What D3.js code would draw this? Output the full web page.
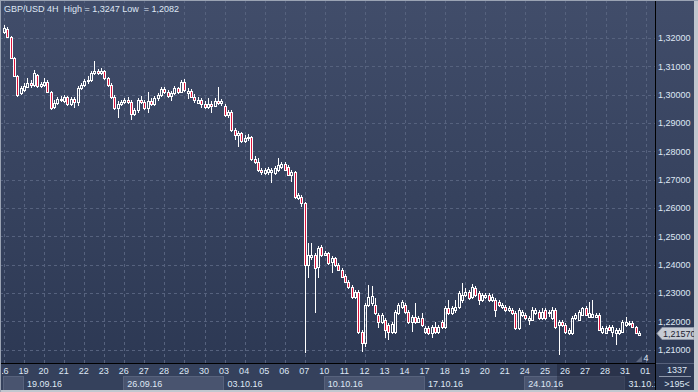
<!DOCTYPE html>
<html>
<head>
<meta charset="utf-8">
<script src="https://cdn.jsdelivr.net/npm/d3@7"></script>
<style>
  html, body { margin: 0; padding: 0; background: #2f3b56; }
  svg { display: block; }
  text { font-family: "Liberation Sans", Arial, sans-serif; font-size: 9px; }
</style>
</head>
<body>
<div id="chart"></div>
<script>
// GBP/USD 4H candles, 6 bars per trading day, one line per day
const dayLabels = ["16","19","20","21","22","23","26","27","28","29","30","03","04","05","06","07",
  "10","11","12","13","14","17","18","19","20","21","24","25","26","27","28","31","01"];
const weekLabels = ["19.09.16","26.09.16","03.10.16","10.10.16","17.10.16","24.10.16","31.10.16"];
const weekStartDay = [1, 6, 11, 16, 21, 26, 31]; // index into dayLabels
const priceTicks = [1.21,1.22,1.23,1.24,1.25,1.26,1.27,1.28,1.29,1.30,1.31,1.32];

const opens = [
  1.3221,1.3232,1.3204,1.3129,1.3066,1.3006,
  1.3016,1.3027,1.3041,1.3034,1.3069,1.3031,
  1.3034,1.3045,1.3009,1.2956,1.2971,1.2985,
  1.2978,1.2992,1.2967,1.2985,1.2974,1.3024,
  1.3034,1.3048,1.3052,1.3076,1.3084,1.3076,
  1.3084,1.3059,1.3034,1.2992,1.2953,1.2967,
  1.2974,1.2981,1.2974,1.2932,1.2946,1.2981,
  1.2974,1.2953,1.2978,1.2967,1.2988,1.2999,
  1.3020,1.3009,1.2995,1.3006,1.3024,1.3009,
  1.3045,1.3006,1.3013,1.2992,1.2971,1.2981,
  1.2967,1.2956,1.2967,1.2960,1.2978,1.2971,
  1.2960,1.2928,1.2939,1.2875,1.2858,1.2865,
  1.2836,1.2847,1.2851,1.2773,1.2762,1.2734,
  1.2723,1.2727,1.2727,1.2723,1.2734,1.2745,
  1.2755,1.2745,1.2716,1.2727,1.2635,1.2639,
  1.2618,1.2399,1.2427,1.2434,1.2392,1.2462,
  1.2434,1.2441,1.2409,1.2423,1.2399,1.2381,
  1.2360,1.2339,1.2321,1.2286,1.2303,1.2162,
  1.2123,1.2257,1.2265,1.2257,1.2222,1.2197,
  1.2205,1.2187,1.2162,1.2162,1.2229,1.2250,
  1.2257,1.2233,1.2197,1.2215,1.2197,1.2212,
  1.2162,1.2176,1.2158,1.2180,1.2162,1.2197,
  1.2180,1.2247,1.2229,1.2240,1.2250,1.2275,
  1.2293,1.2303,1.2286,1.2318,1.2300,1.2275,
  1.2286,1.2293,1.2275,1.2275,1.2268,1.2250,
  1.2250,1.2240,1.2240,1.2229,1.2176,1.2222,
  1.2222,1.2205,1.2205,1.2229,1.2233,1.2212,
  1.2240,1.2229,1.2212,1.2240,1.2187,1.2197,
  1.2187,1.2158,1.2158,1.2212,1.2205,1.2222,
  1.2247,1.2215,1.2215,1.2215,1.2222,1.2162,
  1.2158,1.2180,1.2162,1.2158,1.2158,1.2162,
  1.2187,1.2190,1.2194,1.2180,1.2151
];
const highs = [
  1.3246,1.3239,1.3207,1.3133,1.3069,1.3031,
  1.3041,1.3059,1.3052,1.3087,1.3073,1.3045,
  1.3059,1.3052,1.3013,1.2981,1.2992,1.2995,
  1.2999,1.2995,1.2992,1.2992,1.3031,1.3041,
  1.3055,1.3066,1.3084,1.3119,1.3091,1.3094,
  1.3087,1.3062,1.3041,1.2999,1.2978,1.2981,
  1.2988,1.2992,1.2981,1.2953,1.2988,1.2995,
  1.2981,1.3009,1.2988,1.2995,1.3006,1.3027,
  1.3027,1.3016,1.3013,1.3031,1.3027,1.3052,
  1.3055,1.3024,1.3020,1.3002,1.2992,1.2988,
  1.2978,1.2988,1.2978,1.2988,1.3027,1.2985,
  1.2967,1.2946,1.2946,1.2882,1.2872,1.2868,
  1.2858,1.2861,1.2854,1.2783,1.2776,1.2741,
  1.2741,1.2745,1.2741,1.2748,1.2776,1.2762,
  1.2762,1.2752,1.2734,1.2731,1.2653,1.2646,
  1.2621,1.2476,1.2476,1.2441,1.2466,1.2469,
  1.2448,1.2445,1.2430,1.2427,1.2406,1.2388,
  1.2367,1.2346,1.2328,1.2310,1.2310,1.2169,
  1.2265,1.2328,1.2325,1.2282,1.2229,1.2229,
  1.2212,1.2194,1.2197,1.2240,1.2265,1.2275,
  1.2265,1.2240,1.2222,1.2265,1.2219,1.2229,
  1.2183,1.2183,1.2187,1.2197,1.2187,1.2205,
  1.2254,1.2275,1.2254,1.2275,1.2307,1.2335,
  1.2318,1.2310,1.2332,1.2325,1.2307,1.2300,
  1.2300,1.2300,1.2296,1.2282,1.2275,1.2265,
  1.2257,1.2254,1.2247,1.2236,1.2247,1.2240,
  1.2229,1.2219,1.2250,1.2247,1.2240,1.2247,
  1.2247,1.2240,1.2250,1.2247,1.2205,1.2205,
  1.2194,1.2176,1.2219,1.2229,1.2240,1.2250,
  1.2254,1.2268,1.2275,1.2229,1.2229,1.2183,
  1.2183,1.2187,1.2187,1.2176,1.2176,1.2205,
  1.2215,1.2201,1.2201,1.2183,1.2166
];
const lows = [
  1.3214,1.3200,1.3126,1.3062,1.2992,1.2999,
  1.3009,1.3024,1.3024,1.3027,1.3024,1.3024,
  1.3027,1.3006,1.2946,1.2949,1.2963,1.2974,
  1.2971,1.2960,1.2960,1.2953,1.2960,1.3016,
  1.3027,1.3038,1.3045,1.3069,1.3069,1.3069,
  1.3052,1.3027,1.2985,1.2946,1.2918,1.2960,
  1.2967,1.2967,1.2911,1.2925,1.2935,1.2967,
  1.2946,1.2935,1.2960,1.2960,1.2978,1.2992,
  1.3002,1.2988,1.2978,1.2999,1.3002,1.3006,
  1.3009,1.2985,1.2988,1.2971,1.2967,1.2953,
  1.2949,1.2949,1.2935,1.2956,1.2963,1.2960,
  1.2921,1.2918,1.2868,1.2840,1.2815,1.2829,
  1.2829,1.2836,1.2766,1.2755,1.2727,1.2716,
  1.2716,1.2716,1.2688,1.2716,1.2727,1.2738,
  1.2731,1.2713,1.2692,1.2632,1.2628,1.2603,
  1.2088,1.2353,1.2416,1.2229,1.2353,1.2427,
  1.2430,1.2399,1.2370,1.2392,1.2378,1.2353,
  1.2335,1.2314,1.2279,1.2279,1.2155,1.2092,
  1.2109,1.2250,1.2254,1.2222,1.2176,1.2190,
  1.2141,1.2134,1.2155,1.2155,1.2222,1.2243,
  1.2226,1.2190,1.2162,1.2190,1.2194,1.2180,
  1.2155,1.2151,1.2141,1.2155,1.2155,1.2173,
  1.2173,1.2222,1.2222,1.2229,1.2243,1.2265,
  1.2286,1.2275,1.2279,1.2286,1.2257,1.2268,
  1.2279,1.2268,1.2268,1.2215,1.2250,1.2243,
  1.2233,1.2233,1.2222,1.2169,1.2169,1.2215,
  1.2205,1.2187,1.2201,1.2222,1.2205,1.2205,
  1.2205,1.2215,1.2205,1.2173,1.2082,1.2180,
  1.2155,1.2151,1.2151,1.2205,1.2201,1.2219,
  1.2219,1.2212,1.2212,1.2212,1.2166,1.2155,
  1.2155,1.2166,1.2145,1.2116,1.2151,1.2158,
  1.2180,1.2183,1.2176,1.2155,1.2148
];
const closes = [
  1.3235,1.3204,1.3129,1.3066,1.2999,1.3024,
  1.3031,1.3041,1.3034,1.3076,1.3031,1.3038,
  1.3045,1.3009,1.2953,1.2971,1.2985,1.2981,
  1.2992,1.2967,1.2985,1.2974,1.3024,1.3034,
  1.3048,1.3052,1.3076,1.3084,1.3076,1.3084,
  1.3059,1.3034,1.2992,1.2953,1.2967,1.2974,
  1.2981,1.2974,1.2932,1.2946,1.2981,1.2974,
  1.2953,1.2978,1.2967,1.2988,1.2999,1.3020,
  1.3009,1.2995,1.3006,1.3024,1.3009,1.3045,
  1.3016,1.3013,1.2992,1.2981,1.2981,1.2967,
  1.2956,1.2967,1.2960,1.2978,1.2971,1.2978,
  1.2928,1.2939,1.2875,1.2858,1.2865,1.2836,
  1.2847,1.2851,1.2773,1.2762,1.2734,1.2727,
  1.2734,1.2738,1.2734,1.2741,1.2752,1.2755,
  1.2734,1.2716,1.2727,1.2639,1.2646,1.2618,
  1.2399,1.2434,1.2434,1.2388,1.2459,1.2434,
  1.2441,1.2406,1.2423,1.2399,1.2381,1.2356,
  1.2339,1.2321,1.2286,1.2303,1.2162,1.2123,
  1.2257,1.2286,1.2289,1.2229,1.2197,1.2222,
  1.2169,1.2162,1.2190,1.2233,1.2257,1.2268,
  1.2233,1.2197,1.2215,1.2197,1.2212,1.2187,
  1.2176,1.2158,1.2180,1.2162,1.2180,1.2180,
  1.2247,1.2229,1.2247,1.2250,1.2300,1.2293,
  1.2303,1.2282,1.2321,1.2293,1.2275,1.2293,
  1.2293,1.2275,1.2286,1.2240,1.2257,1.2257,
  1.2240,1.2247,1.2229,1.2176,1.2240,1.2233,
  1.2212,1.2212,1.2240,1.2240,1.2212,1.2233,
  1.2212,1.2233,1.2240,1.2180,1.2197,1.2187,
  1.2162,1.2169,1.2212,1.2222,1.2233,1.2247,
  1.2222,1.2229,1.2226,1.2222,1.2169,1.2176,
  1.2176,1.2169,1.2180,1.2169,1.2169,1.2197,
  1.2197,1.2194,1.2180,1.2158,1.2157
];
const lastPrice = 1.21570;
const title = "GBP/USD 4H  High = 1,3247 Low  = 1,2082";
const barsPerDay = 6;
const shadeFromBar = 166;

const W = 698, H = 392;
const plotRight = 655, axisTop = 363;
const textColor = "#dfe7f4";
const bear = "#dc143c";

const svg = d3.select("#chart").append("svg")
  .attr("width", W).attr("height", H);

const defs = svg.append("defs");
const bg = defs.append("linearGradient").attr("id", "bg")
  .attr("x1", 0).attr("y1", 0).attr("x2", 0).attr("y2", 1);
bg.append("stop").attr("offset", "0%").attr("stop-color", "#414d6a");
bg.append("stop").attr("offset", "100%").attr("stop-color", "#2b3752");
defs.append("clipPath").attr("id", "plotClip")
  .append("rect").attr("x", 0).attr("y", 0).attr("width", plotRight).attr("height", H);
defs.append("clipPath").attr("id", "axisClip")
  .append("rect").attr("x", 2).attr("y", 0).attr("width", plotRight - 2).attr("height", H);

svg.append("rect").attr("width", W).attr("height", H).attr("fill", "url(#bg)");

const x = d3.scaleLinear().domain([0, 33 * barsPerDay]).range([4, 4 + 3.342 * 33 * barsPerDay]);
const y = d3.scaleLinear().domain([1.21, 1.32]).range([349.6, 38]);

// grid
const grid = svg.append("g").attr("stroke", "#56627e").attr("stroke-dasharray", "3,3");
grid.selectAll(".h").data(priceTicks).join("line")
  .attr("x1", 0).attr("x2", plotRight)
  .attr("y1", d => Math.round(y(d)) + 0.5).attr("y2", d => Math.round(y(d)) + 0.5);
grid.selectAll(".v").data(dayLabels).join("line")
  .attr("x1", (d, k) => Math.round(x(k * barsPerDay)) + 0.5)
  .attr("x2", (d, k) => Math.round(x(k * barsPerDay)) + 0.5)
  .attr("y1", 0).attr("y2", axisTop);

// candles
const bars = d3.range(closes.length);
const cg = svg.append("g").attr("clip-path", "url(#plotClip)");
const candle = cg.selectAll("g").data(bars).join("g")
  .attr("transform", i => `translate(${Math.round(x(i)) - 1},0)`);

candle.each(function (i) {
  const g = d3.select(this);
  const o = opens[i], c = closes[i];
  const top = Math.round(y(Math.max(o, c)));
  const bot = Math.round(y(Math.min(o, c)));
  const hi = Math.round(y(highs[i]));
  const lo = Math.round(y(lows[i]));
  g.append("line").attr("x1", 1.5).attr("x2", 1.5)
    .attr("y1", hi).attr("y2", top).attr("stroke", "#fff");
  g.append("line").attr("x1", 1.5).attr("x2", 1.5)
    .attr("y1", bot).attr("y2", lo).attr("stroke", "#fff");
  if (bot - top < 1) {
    g.append("line").attr("x1", 0).attr("x2", 3)
      .attr("y1", top + 0.5).attr("y2", top + 0.5).attr("stroke", "#fff");
  } else {
    g.append("rect").attr("x", 0.5).attr("y", top + 0.5)
      .attr("width", 2).attr("height", bot - top)
      .attr("fill", c < o ? bear : "none").attr("stroke", "#fff");
  }
});

svg.append("text").attr("x", 4).attr("y", 11.5)
  .attr("fill", textColor).style("white-space", "pre").text(title);

// bottom axis area
const axisArea = svg.append("g").attr("clip-path", "url(#plotClip)");
axisArea.append("rect").attr("x", 0).attr("y", axisTop).attr("width", plotRight).attr("height", H - axisTop)
  .attr("fill", "#35415c");
axisArea.selectAll(".wk").data(weekStartDay.filter((d, i) => i % 2 === 1)).join("rect")
  .attr("x", k => Math.round(x(k * barsPerDay)) - 0.5)
  .attr("y", 376.5).attr("width", 100).attr("height", 14)
  .attr("fill", "#49546f").attr("stroke", "#57627c");
axisArea.append("rect").attr("x", 3.5).attr("y", 376.5)
  .attr("width", Math.round(x(barsPerDay)) - 4).attr("height", 14)
  .attr("fill", "#49546f").attr("stroke", "#57627c");

const labelArea = svg.append("g").attr("clip-path", "url(#axisClip)");
const xAxis = d3.axisBottom(x)
  .tickValues(dayLabels.map((d, k) => k * barsPerDay))
  .tickFormat((d, i) => dayLabels[i])
  .tickSize(0).tickPadding(4);
const xg = labelArea.append("g").attr("transform", `translate(-1,${axisTop + 1})`).call(xAxis);
xg.select(".domain").remove();
xg.selectAll("text").attr("fill", textColor).style("font-size", "9px")
  .style("font-family", "\"Liberation Sans\", Arial, sans-serif");

labelArea.selectAll(".wl").data(weekLabels).join("text")
  .attr("x", (d, i) => x(weekStartDay[i] * barsPerDay) + 3)
  .attr("y", 387).attr("fill", textColor).text(d => d);

axisArea.append("rect")
  .attr("x", Math.round(x(shadeFromBar)) - 2).attr("y", axisTop)
  .attr("width", plotRight - Math.round(x(shadeFromBar)) + 2).attr("height", H - axisTop)
  .attr("fill", "#1c2438").attr("opacity", 0.45);

// price axis
const yAxis = d3.axisRight(y).tickValues(priceTicks)
  .tickFormat(d => d.toFixed(5).replace(".", ","))
  .tickSize(0).tickPadding(3);
const yg = svg.append("g").attr("transform", `translate(${plotRight},0)`).call(yAxis);
yg.select(".domain").remove();
yg.selectAll("text").attr("fill", textColor).style("font-size", "9px")
  .style("font-family", "\"Liberation Sans\", Arial, sans-serif");

// separators
svg.append("line").attr("x1", plotRight + 0.5).attr("x2", plotRight + 0.5)
  .attr("y1", 0).attr("y2", H).attr("stroke", "#000");
svg.append("line").attr("x1", 0).attr("x2", plotRight)
  .attr("y1", axisTop + 0.5).attr("y2", axisTop + 0.5).attr("stroke", "#000");
svg.append("line").attr("x1", plotRight + 1).attr("x2", W)
  .attr("y1", axisTop + 0.5).attr("y2", axisTop + 0.5).attr("stroke", "#56617b");

// last price tag
const yl = Math.round(y(lastPrice)) + 0.5;
svg.append("path")
  .attr("d", `M${plotRight + 2},${yl} L${plotRight + 7},${yl - 6} L${W - 4},${yl - 6} L${W - 4},${yl + 6} L${plotRight + 7},${yl + 6} Z`)
  .attr("fill", "#c7ccd5").attr("stroke", "#8e96a6");
svg.append("text").attr("x", plotRight + 8).attr("y", yl + 3.5)
  .attr("fill", "#1b2130").text(lastPrice.toFixed(5).replace(".", ","));

// bar count marker
svg.append("path").attr("d", "M636,362 L642,356 L642,362 Z").attr("fill", "#5d677f");
svg.append("text").attr("x", 646).attr("y", 361).attr("text-anchor", "middle")
  .attr("fill", textColor).text("4");

// right bottom box
svg.append("text").attr("x", 677).attr("y", 373).attr("text-anchor", "middle")
  .attr("fill", textColor).text("1337");
svg.append("line").attr("x1", 659).attr("x2", 691).attr("y1", 376.5).attr("y2", 376.5)
  .attr("stroke", "#8d97aa");
svg.append("text").attr("x", 677).attr("y", 387).attr("text-anchor", "middle")
  .attr("fill", textColor).text(">195<");

// frame
svg.append("rect").attr("x", W - 4).attr("y", 0).attr("width", 4).attr("height", H).attr("fill", "#c2c7cf");
svg.append("rect").attr("x", 0).attr("y", H - 2).attr("width", W).attr("height", 2).attr("fill", "#c2c7cf");
svg.append("rect").attr("x", 0).attr("y", 0).attr("width", W).attr("height", 1).attr("fill", "#9aa3b3");
svg.append("rect").attr("x", 0).attr("y", 0).attr("width", 1).attr("height", H).attr("fill", "#9aa3b3");
</script>
</body>
</html>
